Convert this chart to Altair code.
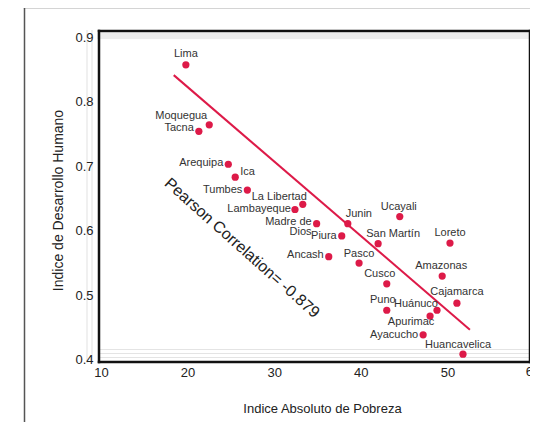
import altair as alt
import pandas as pd

# ---- data ----
regions = ["Lima", "Moquegua", "Tacna", "Arequipa", "Ica", "Tumbes", "La Libertad",
           "Lambayeque", "Madre de\nDios", "Junin", "Ucayali", "Piura", "San Martín",
           "Loreto", "Ancash", "Pasco", "Amazonas", "Cusco", "Cajamarca", "Puno",
           "Huánuco", "Apurimac", "Ayacucho", "Huancavelica"]
pobreza = [19.8, 22.5, 21.3, 24.7, 25.5, 26.9, 33.3, 32.4, 34.9, 38.5, 44.5, 37.8,
           42.0, 50.3, 36.3, 39.8, 49.4, 43.0, 51.1, 43.0, 48.8, 48.0, 47.2, 51.8]
idh = [0.857, 0.764, 0.754, 0.703, 0.683, 0.663, 0.641, 0.633, 0.611, 0.611, 0.622,
       0.592, 0.580, 0.581, 0.560, 0.550, 0.530, 0.518, 0.488, 0.477, 0.477, 0.468,
       0.439, 0.409]
# fitted trend line as drawn in the reference
fit_x = [18.4, 52.6]
fit_y = [0.841, 0.447]
x_ticks = [10, 20, 30, 40, 50]
last_tick = "60"
y_ticks = [0.4, 0.5, 0.6, 0.7, 0.8, 0.9]
annotation = "Pearson Correlation= -0.879"

# ---- label placement (layout, pixels) ----
label_align = ["center", "right", "right", "right", "left", "right", "right",
               "right", "right", "center", "center", "right", "center",
               "center", "right", "center", "center", "center", "center", "center",
               "right", "center", "right", "center"]
label_dx = [0, -2, -5, -5, 5, -5, 4, -4, -5, 11, -1, -5, 15, 0, -5, 0, -1, -7, 0, -4,
            1, -19, -5, -5]
label_dy = [-11, -9, -3, -1, -5, 0, -7, 0, -2, -10, -10, 0, -10, -10, -2, -9, -10, -10,
            -11, -10, -6, 6, 0, -9]

PXU = 8.66            # pixels per x unit (from the reference)
W, H = 431, 331
XD = [9.77, 9.77 + W / PXU]
YD = [0.3969, 0.9093]
px_x = W / (XD[1] - XD[0])
px_y = H / (YD[1] - YD[0])

df = pd.DataFrame({
    "region": regions, "pobreza": pobreza, "idh": idh,
    "align": label_align,
})
df["lx"] = [x + dx / px_x for x, dx in zip(pobreza, label_dx)]
df["ly"] = [y - dy / px_y for y, dy in zip(idh, label_dy)]
fit_df = pd.DataFrame({"pobreza": fit_x, "idh": fit_y})

RED = "#DD1A48"
FONT = "Liberation Sans"

xs = alt.Scale(domain=XD, nice=False, zero=False)
ys = alt.Scale(domain=YD, nice=False, zero=False)

base = alt.Chart(df)

points = base.mark_circle(size=52, color=RED, opacity=1).encode(
    x=alt.X("pobreza:Q", scale=xs,
            axis=alt.Axis(values=x_ticks, title="Indice Absoluto de Pobreza",
                          tickSize=0, labelPadding=4, domain=False, grid=False,
                          labelFontSize=13, labelColor="#222", labelFont=FONT,
                          labelFlush=False, zindex=2,
                          titleFontSize=13, titleFont=FONT, titleColor="#222",
                          titleFontWeight="normal", titleX=223, titleY=46,
                          titleBaseline="middle")),
    y=alt.Y("idh:Q", scale=ys,
            axis=alt.Axis(values=y_ticks, format=".1f",
                          title="Indice de Desarrollo Humano", zindex=2,
                          tickSize=0, labelPadding=6, domain=False, grid=False,
                          labelFontSize=13, labelColor="#222", labelFont=FONT,
                          titleFontSize=14, titleFont=FONT, titleColor="#222",
                          titleFontWeight="normal", titleX=-41, titleY=169,
                          titleAngle=-90, titleBaseline="middle",
                          titleAlign="center")),
)

fit = alt.Chart(fit_df).mark_line(color=RED, strokeWidth=2).encode(
    x=alt.X("pobreza:Q", scale=xs), y=alt.Y("idh:Q", scale=ys))

label_layers = []
for a in ["left", "center", "right"]:
    label_layers.append(
        base.transform_filter(alt.datum.align == a).mark_text(
            align=a, baseline="middle", fontSize=11, font=FONT, color="#333",
            lineBreak="\n", lineHeight=10).encode(
            x=alt.X("lx:Q", scale=xs), y=alt.Y("ly:Q", scale=ys), text="region:N")
    )

ann = alt.Chart(pd.DataFrame({"t": [annotation]})).mark_text(
    angle=41.7, fontSize=16, font=FONT, color="#222", align="center",
    baseline="middle").encode(x=alt.value(143), y=alt.value(217), text="t:N")

# the cut-off "60" tick label at the right edge
tick60 = alt.Chart(pd.DataFrame({"t": [last_tick]})).mark_text(
    fontSize=13, font=FONT, color="#222", align="center", baseline="top").encode(
    x=alt.value(434), y=alt.value(H + 4), text="t:N")

# frame-like decorations (pixel positions relative to plot area)
deco = pd.DataFrame({"k": [0]})


def hline(y, x1, x2, color, w):
    return alt.Chart(deco).mark_rule(color=color, strokeWidth=w, strokeCap="square").encode(
        x=alt.value(x1), x2=alt.value(x2), y=alt.value(y))


def vline(x, y1, y2, color, w):
    return alt.Chart(deco).mark_rule(color=color, strokeWidth=w, strokeCap="square").encode(
        x=alt.value(x), y=alt.value(y1), y2=alt.value(y2))


decorations = [
    # outer thin frame
    vline(-74.5, -23.5, 400, "#555555", 1.5),
    hline(-23.5, -74.5, 440, "#555555", 1.5),
    # light artefact bands
    hline(5, 1, W - 1, "#ededed", 6),
    hline(318.5, 1, W - 1, "#e4e4e4", 1),
    hline(322.5, 1, W - 1, "#e4e4e4", 1),
    hline(326.5, 1, W - 1, "#e4e4e4", 1),
    vline(-12, 0, H, "#f0f0f0", 2),
    vline(-7, 0, H, "#f0f0f0", 2),
    # dark plot frame
    hline(0, 0, W, "#111111", 2.5),
    hline(H, 0, W, "#111111", 2.5),
    vline(0, 0, H, "#111111", 2.5),
    vline(W, 0, H, "#111111", 2.5),
]

chart = alt.layer(
    *decorations, fit, points, *label_layers, ann, tick60
).properties(
    width=W, height=H,
    autosize=alt.AutoSizeParams(type="none"),
    padding={"left": 91, "top": 23, "right": 0, "bottom": 60},
    background="white",
).configure_view(stroke=None)

chart.save("out.html", embed_options={"renderer": "svg", "actions": False})
